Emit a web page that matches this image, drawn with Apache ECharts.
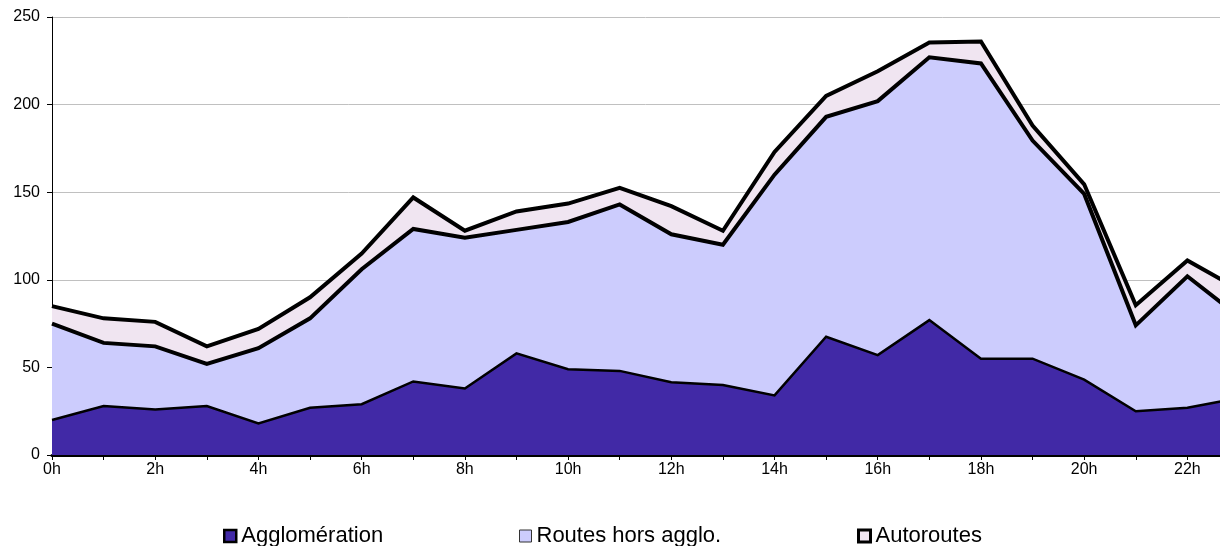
<!DOCTYPE html>
<html>
<head>
<meta charset="utf-8">
<script src="https://cdn.jsdelivr.net/npm/echarts@6/dist/echarts.min.js"></script>
<style>
  html, body {margin: 0; padding: 0; background: #fff; overflow: hidden;}
  /* le graphique d'origine est coupé à droite : la zone de tracé dépasse la fenêtre */
  #chart {width: 1240px; height: 546px;}
</style>
</head>
<body>
<div id="chart"></div>
<script>
// heures
const hours = ['0h', '1h', '2h', '3h', '4h', '5h', '6h', '7h', '8h', '9h', '10h', '11h',
    '12h', '13h', '14h', '15h', '16h', '17h', '18h', '19h', '20h', '21h', '22h', '23h'];

// valeurs (empilées)
const agglomeration = [20, 28, 26, 28, 18, 27, 29, 42, 38, 58, 49, 48,
    41.5, 40, 34, 67.5, 57, 77, 55, 55, 43, 25, 27, 32.5];
const routesHorsAgglo = [55, 36, 36, 24, 43, 51, 77, 87, 86, 70.5, 84, 95,
    84.5, 80, 126, 125.5, 145, 150, 168.5, 124.5, 106, 49, 75, 46.5];
const autoroutes = [10, 14, 14, 10, 11, 12, 9, 18, 4, 10.5, 10.5, 9.5,
    16, 8, 13, 12, 17, 8.5, 12.5, 8.5, 5.5, 11.5, 9, 15.5];

const yTicks = {min: 0, max: 250, interval: 50};

const seriesDefs = [
    {name: 'Agglomération', data: agglomeration, fill: '#4129a6', line: 2.5, iconBorder: '#000', iconWidth: 2.5},
    {name: 'Routes hors agglo.', data: routesHorsAgglo, fill: '#ccccfd', line: 4, iconBorder: '#333', iconWidth: 1},
    {name: 'Autoroutes', data: autoroutes, fill: '#f0e5f1', line: 4, iconBorder: '#000', iconWidth: 3},
];
const legendLeft = [223, 519, 857];

const font = '"Liberation Sans", Arial, sans-serif';
const chart = echarts.init(document.getElementById('chart'));

chart.setOption({
    animation: false,
    backgroundColor: '#fff',
    grid: {left: 52, right: 1, top: 17, bottom: 91, containLabel: false},
    legend: seriesDefs.map((s, i) => ({
        left: legendLeft[i],
        top: 525,
        padding: 0,
        icon: 'rect',
        itemWidth: 12,
        itemHeight: 12,
        itemGap: 0,
        textStyle: {fontFamily: font, fontSize: 22, color: '#000', padding: [0, 0, 0, 0]},
        data: [{
            name: s.name,
            itemStyle: {color: s.fill, borderColor: s.iconBorder, borderWidth: s.iconWidth},
        }],
    })),
    xAxis: {
        type: 'category',
        data: hours,
        boundaryGap: false,
        axisLine: {lineStyle: {color: '#000', width: 3}},
        axisTick: {interval: 0, length: 5, lineStyle: {color: '#000', width: 1}},
        axisLabel: {interval: 1, color: '#000', fontFamily: font, fontSize: 16, margin: 7},
        splitLine: {show: false},
    },
    yAxis: {
        type: 'value',
        min: yTicks.min,
        max: yTicks.max,
        interval: yTicks.interval,
        axisLine: {show: true, lineStyle: {color: '#000', width: 1}},
        axisTick: {show: true, length: 5, lineStyle: {color: '#000'}},
        axisLabel: {color: '#000', fontFamily: font, fontSize: 16, margin: 12},
        splitLine: {lineStyle: {color: '#c0c0c0', width: 1}},
    },
    series: seriesDefs.map(s => ({
        name: s.name,
        type: 'line',
        stack: 'total',
        data: s.data,
        showSymbol: false,
        symbol: 'none',
        color: s.fill,
        lineStyle: {color: '#000', width: s.line, join: 'miter'},
        areaStyle: {color: s.fill, opacity: 1},
        z: 2,
    })),
});
</script>
</body>
</html>
